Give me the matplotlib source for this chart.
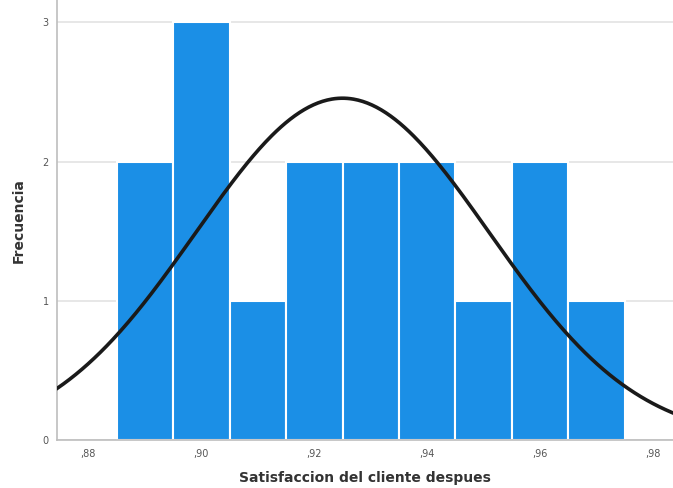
import numpy as np
import matplotlib
matplotlib.use("Agg")
import matplotlib.pyplot as plt

# histogram of post-satisfaction scores with a fitted normal curve
bin_edges = [0.885, 0.895, 0.905, 0.915, 0.925, 0.935, 0.945, 0.955, 0.965, 0.975]
counts = [2, 3, 1, 2, 2, 2, 1, 2, 1]
fit_mean = 0.925
fit_sd = 0.026
x_ticks = [0.88, 0.90, 0.92, 0.94, 0.96, 0.98]
y_ticks = [0, 1, 2, 3]

BLUE, GREY, TXT = "#1b8fe6", "#bdbdbd", "#555555"
X_LO, X_HI = 0.8745, 0.9835

fig = plt.figure(figsize=(6.73, 4.88), dpi=100)
ax = fig.add_axes([0.085, 0.098, 0.915, 0.902])

widths = np.diff(bin_edges)
ax.bar(bin_edges[:-1], counts, width=widths, align="edge", color=BLUE,
       edgecolor="white", linewidth=1.5, zorder=2)

n = sum(counts)
bw = widths[0]
xs = np.linspace(X_LO, X_HI, 400)
ys = n * bw / (fit_sd * np.sqrt(2 * np.pi)) * np.exp(-0.5 * ((xs - fit_mean) / fit_sd) ** 2)
ax.plot(xs, ys, color="#1a1a1a", lw=2.6, zorder=3)

ax.set_xlim(X_LO, X_HI)
ax.set_ylim(0, 3.16)
ax.set_xticks(x_ticks)
ax.set_xticklabels([f",{int(round(t * 100))}" for t in x_ticks])
ax.set_yticks(y_ticks)
ax.set_yticklabels([str(t) for t in y_ticks])
ax.tick_params(length=0, labelsize=7, colors=TXT, pad=6)
ax.yaxis.grid(True, color="#e3e3e3", lw=1.2, zorder=0)
ax.set_axisbelow(True)
for s in ["top", "right"]:
    ax.spines[s].set_visible(False)
for s in ["left", "bottom"]:
    ax.spines[s].set_color(GREY)
    ax.spines[s].set_linewidth(1.2)

ax.set_xlabel("Satisfaccion del cliente despues", fontsize=10, fontweight="bold",
              color="#333333", labelpad=9)
ax.set_ylabel("Frecuencia", fontsize=10, fontweight="bold", color="#333333", labelpad=12)

fig.savefig("out.png", dpi=100)
